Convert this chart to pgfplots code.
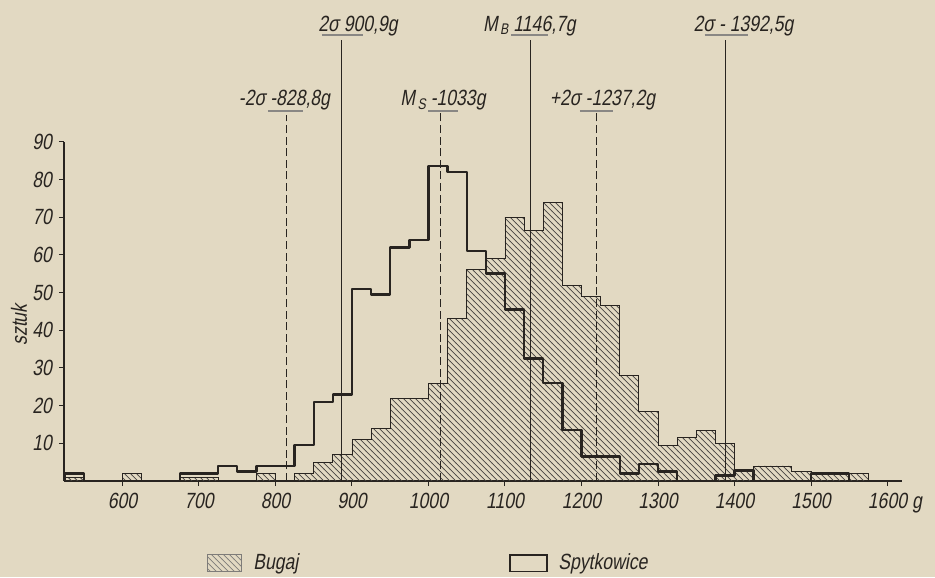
\documentclass[border=0pt]{standalone}
\usepackage{pgfplots}
\pgfplotsset{compat=1.18}
\usepackage{fontspec}
\setmainfont{Liberation Sans}[FakeStretch=0.8, FakeSlant=0.18]
\usetikzlibrary{patterns,backgrounds}
\definecolor{bg}{RGB}{226,217,194}
\definecolor{ink}{RGB}{40,36,32}
\begin{document}
\begin{tikzpicture}[lab/.style={font=\fontsize{11}{13}\selectfont, text=ink, inner sep=0pt}]
\begin{axis}[
  x=0.3825pt, y=1.885pt,
  xmin=523.5, xmax=1619, ymin=0, ymax=90,
  axis lines=left,
  axis line style={-, line width=0.6pt, draw=ink},
  clip=false,
  xtick={600,700,...,1600}, ytick={10,20,...,90},
  tick align=outside, major tick length=2.5pt,
  tick style={draw=ink, line width=0.5pt},
  tick label style={font=\fontsize{11}{13}\selectfont, text=ink},
  /pgf/number format/assume math mode=true,
  /pgf/number format/set thousands separator={},
]
% Bugaj
\addplot[const plot, draw=ink, line width=0.45pt, pattern=north west lines, pattern color=ink!85] coordinates {
(525,0) (525,1) (550,0) (600,2) (625,0) (675,1) (725,0) (775,2) (800,0) (825,2) (850,5) (875,7)
(900,11) (925,14) (950,22) (975,22) (1000,26) (1025,43) (1050,56) (1075,59) (1100,70) (1125,66.5)
(1150,74) (1175,52) (1200,49) (1225,46.5) (1250,28) (1275,18.5) (1300,9.5) (1325,11.5) (1350,13.5)
(1375,10) (1400,2.5) (1425,4) (1450,4) (1475,2.5) (1500,2) (1525,2) (1550,2) (1575,0)
} \closedcycle;
% Spytkowice
\addplot[const plot, draw=ink, line width=1.2pt, line join=round] coordinates {
(525,0) (525,2) (550,0) (675,2) (700,2) (725,4) (750,2.5) (775,4) (800,4) (825,9.5) (850,21) (875,23)
(900,51) (925,49.5) (950,62) (975,64) (1000,83.5) (1025,82) (1050,61) (1075,55) (1100,45.5)
(1125,32.5) (1150,26) (1175,13.5) (1200,6.5) (1225,6.5) (1250,2) (1275,4.5) (1300,2.5) (1325,0)
(1375,1.5) (1400,3) (1425,0) (1500,2) (1525,2) (1550,0)
};
% reference lines
\addplot[draw=ink, line width=0.5pt, dash pattern=on 4pt off 1.8pt] coordinates {(815,0) (815,97)};
\addplot[draw=ink, line width=0.5pt] coordinates {(886.5,0) (886.5,117)};
\addplot[draw=ink, line width=0.5pt, dash pattern=on 4pt off 1.8pt] coordinates {(1016.3,0) (1016.3,97.5)};
\addplot[draw=ink, line width=0.5pt] coordinates {(1132.7,0) (1132.7,117)};
\addplot[draw=ink, line width=0.5pt, dash pattern=on 4pt off 1.8pt] coordinates {(1219,0) (1219,97.5)};
\addplot[draw=ink, line width=0.5pt] coordinates {(1387.6,0) (1387.6,117)};
% underlines
\draw[ink!55, line width=1pt] (axis cs:860.8,118.3) -- (axis cs:914.4,118.3);
\draw[ink!55, line width=1pt] (axis cs:1108,118.3) -- (axis cs:1156.2,118.3);
\draw[ink!55, line width=1pt] (axis cs:1361,118.3) -- (axis cs:1417.6,118.3);
\draw[ink!55, line width=1pt] (axis cs:790,98.2) -- (axis cs:835.9,98.2);
\draw[ink!55, line width=1pt] (axis cs:1000,98.2) -- (axis cs:1038.6,98.2);
\draw[ink!55, line width=1pt] (axis cs:1198,98.2) -- (axis cs:1241,98.2);
% labels
\node[lab, anchor=base] at (axis cs:1132.0,119.3) {M\kern1.2pt\textsubscript{B}\kern2pt 1146,7g};
\node[lab, anchor=base] at (axis cs:907.8,119.3) {2σ 900,9g};
\node[lab, anchor=base] at (axis cs:1411.8,119.3) {2σ - 1392,5g};
\node[lab, anchor=base] at (axis cs:811.8,99.5) {-2σ -828,8g};
\node[lab, anchor=base] at (axis cs:1019.0,99.5) {M\kern1.2pt\textsubscript{S}\kern2pt -1033g};
\node[lab, anchor=base] at (axis cs:1227.5,99.5) {+2σ -1237,2g};
\node[lab, rotate=90] at (axis cs:464.7,41.4) {sztuk};
\node[lab, anchor=base] at (axis cs:1638.6,-7.2) {g};
% legend
\draw[ink!60, line width=0.5pt, pattern=north west lines, pattern color=ink!60] (axis cs:710.5,-19.6) rectangle (axis cs:756.2,-23.9);
\node[lab, anchor=west] at (axis cs:770.6,-22.0) {Bugaj};
\draw[ink, line width=0.6pt] (axis cs:1106.5,-19.6) rectangle (axis cs:1154.9,-23.9);
\node[lab, anchor=west] at (axis cs:1169.3,-22.0) {Spytkowice};
\coordinate (BL) at (axis cs:439.9,-25.5);
\coordinate (TR) at (axis cs:1662.1,127.6);
\end{axis}
\begin{scope}[on background layer]
\fill[bg] (BL) rectangle (TR);
\end{scope}
\pgfresetboundingbox
\path[use as bounding box] (BL) rectangle (TR);
\end{tikzpicture}
\end{document}
